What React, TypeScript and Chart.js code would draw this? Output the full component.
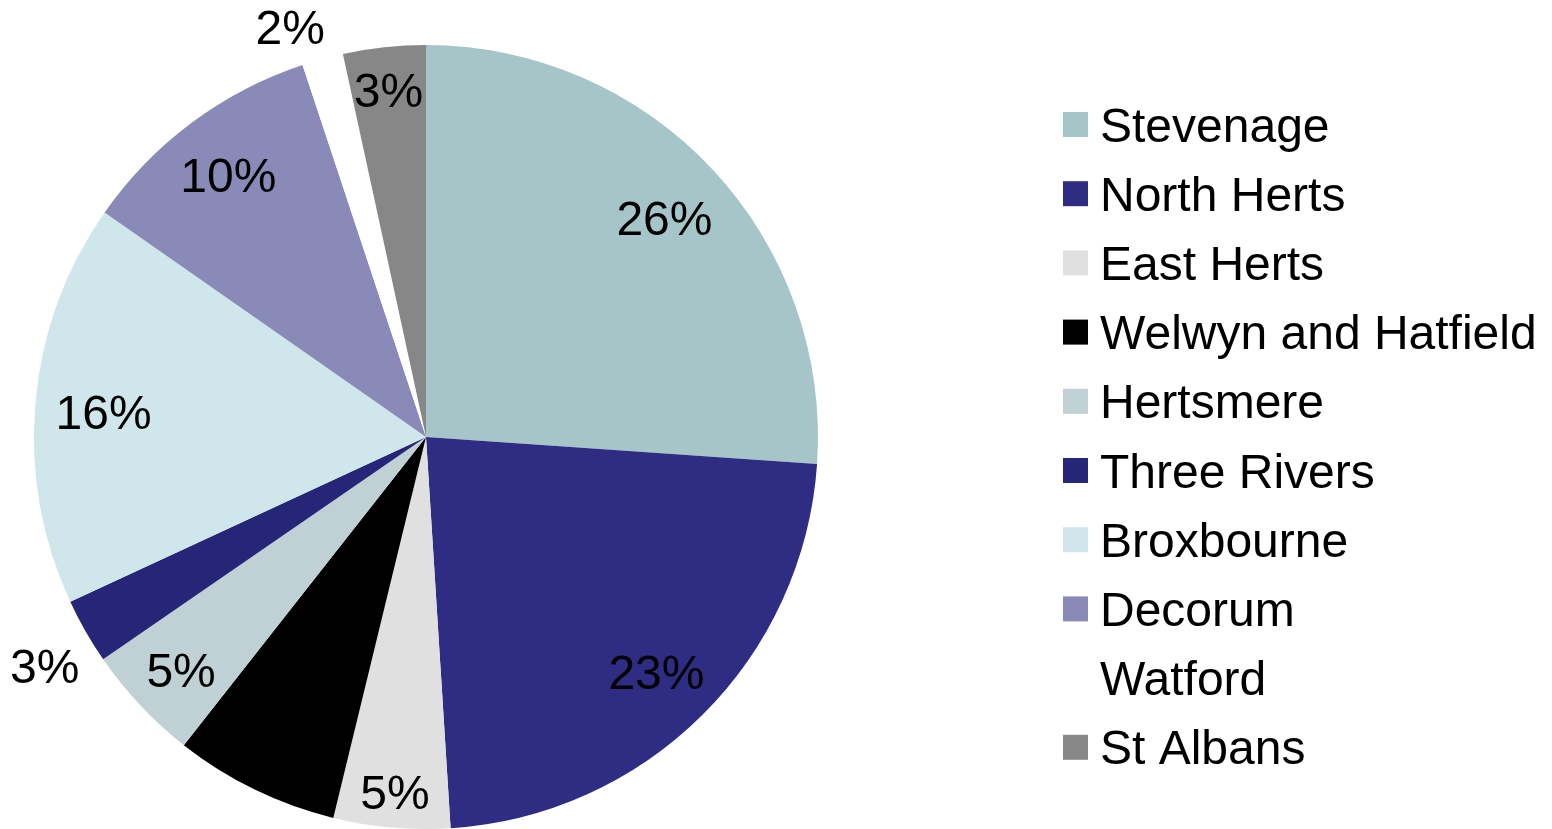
import React, { useEffect, useRef } from "react";
import { Chart, registerables } from "chart.js";

Chart.register(...registerables);

const categories = [
  "Stevenage",
  "North Herts",
  "East Herts",
  "Welwyn and Hatfield",
  "Hertsmere",
  "Three Rivers",
  "Broxbourne",
  "Decorum",
  "Watford",
  "St Albans",
];
// slice sizes (share of the whole, %)
const shares = [26.1, 22.9, 4.8, 6.8, 4.8, 2.7, 16.6, 10.2, 1.7, 3.4];
// data labels as printed on the chart
const pctLabels = ["26%", "23%", "5%", "7%", "5%", "3%", "16%", "10%", "2%", "3%"];
const colors = [
  "#A6C5C8",
  "#2E2D83",
  "#E0E0E0",
  "#000000",
  "#BFD1D4",
  "#262678",
  "#CFE7EB",
  "#8A8AB8",
  "#FFFFFF",
  "#878787",
];

const FONT = '"Liberation Sans", Arial, sans-serif';
const FONT_SIZE = 48;

const labelPlugin = {
  id: "pieLabelsAndLegend",
  afterDatasetsDraw(chart: any) {
    const ctx = chart.ctx as CanvasRenderingContext2D;
    const meta = chart.getDatasetMeta(0);
    const data = chart.data.datasets[0].data as number[];
    const total = data.reduce((a, b) => a + b, 0);
    const W = chart.width;
    const H = chart.height;
    ctx.save();
    ctx.font = `${FONT_SIZE}px ${FONT}`;
    ctx.fillStyle = "#000";
    ctx.textAlign = "center";
    ctx.textBaseline = "alphabetic";
    const capHalf = FONT_SIZE * 0.358;
    meta.data.forEach((arc: any, i: number) => {
      const p = arc.getProps(["x", "y", "startAngle", "endAngle", "outerRadius"], true);
      const mid = (p.startAngle + p.endAngle) / 2;
      const pct = (data[i] / total) * 100;
      const text = pctLabels[i];
      const halfW = ctx.measureText(text).width / 2;
      const halfH = capHalf;
      const ux = Math.cos(mid);
      const uy = Math.sin(mid);
      const ext = Math.abs(ux) * halfW + Math.abs(uy) * halfH;
      let cx: number;
      let cy: number;
      if (pct < 3) {
        const d = p.outerRadius + 14 + ext;
        cx = p.x + ux * d;
        cy = p.y + uy * d;
        const minX = 10 + halfW;
        const minY = 10 + halfH;
        const maxX = W - 10 - halfW;
        const maxY = H - 10 - halfH;
        if (cy < minY || cy > maxY) {
          cy = cy < minY ? minY : maxY;
          const dy = cy - p.y;
          cx = p.x + Math.sign(ux) * Math.sqrt(Math.max(d * d - dy * dy, 0));
        }
        if (cx < minX || cx > maxX) {
          cx = cx < minX ? minX : maxX;
          const dx = cx - p.x;
          cy = p.y + Math.sign(uy) * Math.sqrt(Math.max(d * d - dx * dx, 0));
        }
      } else {
        const d = p.outerRadius - 19 - ext;
        cx = p.x + ux * d;
        cy = p.y + uy * d + 3;
      }
      ctx.fillText(text, cx, cy + capHalf);
    });

    // Legend
    const legX = 1063;
    const textX = 1100;
    const top = 124.5;
    const step = 69.2;
    const box = 25;
    ctx.textAlign = "left";
    (chart.data.labels as string[]).forEach((lab, i) => {
      const cy = top + step * i;
      ctx.fillStyle = colors[i];
      ctx.fillRect(legX, cy - box / 2, box, box);
      ctx.fillStyle = "#000";
      ctx.fillText(lab, textX, cy + capHalf);
    });
    ctx.restore();
  },
};

export default function App() {
  const ref = useRef<HTMLCanvasElement | null>(null);
  useEffect(() => {
    if (!ref.current) return;
    const chart = new Chart(ref.current, {
      type: "pie",
      data: {
        labels: categories,
        datasets: [
          {
            data: shares,
            backgroundColor: colors,
            borderWidth: 0,
          },
        ],
      },
      options: {
        responsive: false,
        animation: false,
        layout: { padding: { left: 34, top: 45, right: 734, bottom: 0 } },
        plugins: {
          legend: { display: false },
          tooltip: { enabled: false },
          title: { display: false },
        },
      },
      plugins: [labelPlugin],
    });
    return () => chart.destroy();
  }, []);
  return (
    <div
      style={{
        position: "fixed",
        left: 0,
        top: 0,
        width: 1552,
        height: 829,
        background: "#fff",
      }}
    >
      <canvas ref={ref} width={1552} height={829} />
    </div>
  );
}
